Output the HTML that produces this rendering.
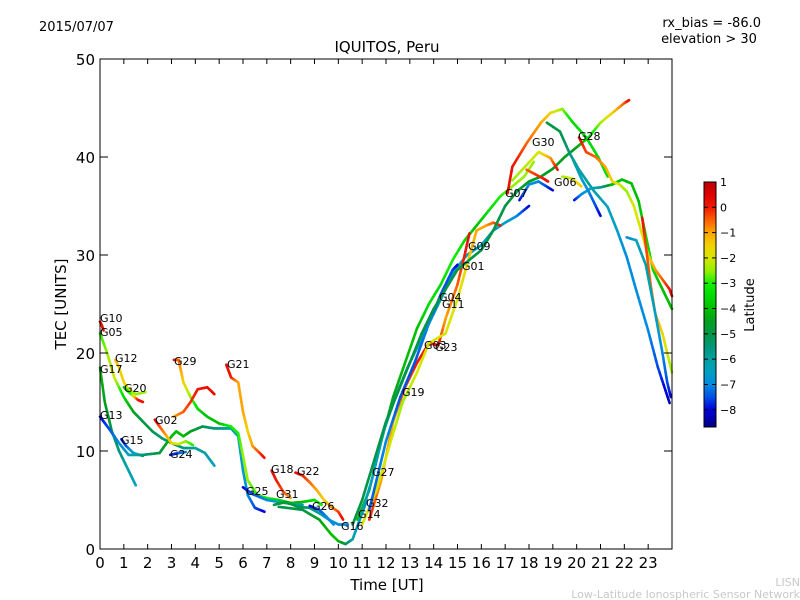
<!DOCTYPE html>
<html><head><meta charset="utf-8"><style>
body{margin:0;background:#fff;}
svg{display:block;font-family:"DejaVu Sans","Liberation Sans",sans-serif;}
</style></head><body>
<svg id="chart" width="800" height="600" viewBox="0 0 800 600">
<defs><linearGradient id="jet" x1="0" y1="0" x2="0" y2="1"></linearGradient></defs>
<text x="39" y="31" font-size="13">2015/07/07</text>
<text x="761" y="27" font-size="13" text-anchor="end">rx_bias = -86.0</text>
<text x="709" y="43" font-size="13" text-anchor="middle">elevation &gt; 30</text>
<text x="387" y="52" font-size="15" text-anchor="middle">IQUITOS, Peru</text>
<text x="387" y="590" font-size="15" text-anchor="middle">Time [UT]</text>
<text transform="translate(66,304) rotate(-90)" font-size="15" text-anchor="middle">TEC [UNITS]</text>
<g id="traces"></g>
<g id="labels"></g>
<rect x="100" y="59" width="572" height="490" fill="none" stroke="#000" stroke-width="1"/>
<g id="axes"></g>
<rect x="704" y="182" width="12" height="245" fill="url(#jet)" stroke="#000" stroke-width="1"/>
<g id="cbticks"></g>
<text transform="translate(754,305) rotate(-90)" font-size="13" text-anchor="middle">Latitude</text>
<text x="800" y="586" font-size="11" fill="#c8c8c8" text-anchor="end">LISN</text>
<text x="800" y="598" font-size="11" fill="#c8c8c8" text-anchor="end">Low-Latitude Ionospheric Sensor Network</text>
</svg>
<script>
const xTicks=[0,1,2,3,4,5,6,7,8,9,10,11,12,13,14,15,16,17,18,19,20,21,22,23];
const yTicks=[0,10,20,30,40,50];
const cbTicks=[1,0,-1,-2,-3,-4,-5,-6,-7,-8];
const traceHours=[
[0,0.08,0.15],
[0,0.3,0.6,1,1.4,1.8,2.2,2.6,3,3.5,4,4.4,4.8],
[0.65,0.8,1,1.2,1.5,1.9],
[1,1.3,1.6,1.8],
[0,0.2,0.5,0.8,1.1,1.5],
[0,0.4,0.8,1.2,1.8,2.5,3,3.2,3.5,3.8,4.3,4.8,5.5,5.8,6,6.2,6.5,6.9],
[0.9,1.1,1.4,1.8],
[3.1,3.3,3.5,3.8,4.1,4.5,5,5.5,5.8,6,6.2,6.6,7,7.5,8,8.5,9,9.3],
[2.3,2.5,2.8,3,3.3,3.6,3.9],
[3.1,3.5,3.8,4.1,4.5,4.8],
[2.95,3.3,3.6],
[5.3,5.5,5.8,6,6.2,6.4,6.7,6.9],
[6,6.4,7,7.5,8,8.5],
[7.2,7.4,7.7,8],
[8.2,8.5,8.8,9.1,9.4,9.7,10,10.2],
[7.3,7.8,8.3,8.8,9.3,9.6,10,10.4],
[8.8,9.2,9.5,9.8],
[7.5,8.5,9.2,9.7,10,10.3,10.6,10.9,11.2],
[10.8,11.3,11.8,12.3,12.8,13.3,13.8,14.3,14.8,15.3,15.8,16.3,16.8,17.3,17.8,18.2],
[10.9,11.4,11.9,12.4,12.9,13.4,13.9,14.4,14.9,15.4,16,16.5,17,17.5,18],
[11.3,11.8,12.3,12.8,13.3,13.8,14.2,14.5,15,15.3,15.5],
[11,11.6,12.2,12.7,13.3,13.8,14.5,15,15.4,15.8,16.2,16.5,16.8],
[11.3,12,12.6,13.2,13.8,14.3,14.8,15],
[10.6,11,11.5,12,12.5,13,13.5,14,14.5,15,15.5,16,16.5,17,17.5,18,18.5,19,19.5,20,20.5,21,21.5,22,22.2],
[17.1,17.3,17.9,18.5,18.9,19.4,19.85,20.4,20.9,21.3],
[17.3,18.4,18.9,19.2],
[17.9,18.6,18.8],
[17.6,18,18.4,19],
[19.4,19.8,20.2],
[18.75,19.3,19.7,20.1,20.7,21.3,21.7,22.1,22.5,23,23.4,23.9],
[19.9,20.2,20.6,21,21.5,21.9,22.3,22.6,22.9,23.2,23.5,23.8,24],
[19.85,20.2,20.5,20.8,21],
[20.1,20.4,20.8,21.2,21.5,21.8,22.1,22.4,22.7,23,23.3,23.6,23.9,24],
[22.75,22.9,23.1,23.3,23.6,23.8,24],
[22.1,22.5,22.9,23.3,23.6,23.8,23.95]
];
const traceTec=[
[23.2,22.8,22.3],
[22,20,17.5,15.5,14,13,12,11.3,10.8,10.3,10.3,9.8,8.5],
[19.3,18.5,17,16.3,15.8,16],
[16.5,15.8,15.2,15],
[18.5,15,12,10,8.5,6.5],
[13.5,12.2,10.8,9.6,9.6,9.8,11.5,12,11.5,12,12.5,12.3,12.3,11.5,8,5.5,4.2,3.8],
[11.2,10.5,9.8,9.5],
[19.3,19.3,17,15.5,14.3,13.5,12.8,12.5,11.8,9.5,7,5.5,5.2,5,4.7,4.8,5,4.5],
[13.2,12.5,11.5,10.8,10.7,11,10.6],
[13.5,14,15,16.3,16.5,15.8],
[9.6,9.8,9.9],
[18.8,17.5,17,14,12,10.5,9.8,9.3],
[6.3,5.6,5,4.8,4.6,4.5],
[8,7,5.8,5.2],
[7.8,7.5,6.8,6,5,4.3,3.8,3],
[4.5,4.8,4.3,4.2,3.5,3,2.5,2.5],
[4.4,4,3.3,2.5],
[4.3,4,3,1.5,0.8,0.5,1,3,5],
[3,6,11,15.5,19,22.5,25,27,29.5,31.5,33,34.5,36,37,38,39.5],
[3,7,12,15.5,18.5,21,23.5,26,28.5,30,31,32.5,33.3,34,35],
[3,7,13,16.5,19,21,20.8,23.5,27,30,32.2],
[2.5,6,11,15,18,21,22,25.5,29,32.5,33,33.3,33],
[4,11,15.5,19,23,26,28.5,29],
[2.5,5,9,13,16,19,22,24.5,26.5,28.5,29.5,30.5,32.5,35,36.5,37.5,38,38.8,40,41,42,43.5,44.5,45.5,45.8],
[36.3,39,41.4,43.5,44.5,44.9,43.5,42,40,38],
[37.6,40.5,39.9,38.7],
[38.7,37.8,37.5],
[35.6,37.2,37.5,36.6],
[38,37.8,37],
[43.5,42.6,40.4,38.7,36.6,34.9,32.5,29.8,26.4,22.3,18.6,14.9],
[35.6,36.2,36.8,36.9,37.2,37.7,37.3,35.5,32,28.5,27,25.5,24.5],
[39.7,37.8,36.5,35,34],
[42,40.5,40,39,37.5,37.2,36.5,35,32.5,30,28.5,27.5,26.5,25.8],
[33.8,31,27,24,22,20,18],
[31.8,31.5,29,24,20,17,15.5]
];
const traceLat=[
[0.3,0.2,0.1],
[-3,-2.5,-2,-3.5,-4.5,-5,-5,-5.5,-5.5,-5.5,-6,-6,-6.5],
[-1,-1.5,-1.5,-2,-2.5,-2.5],
[-4,-3,0,0.2],
[-4,-4.5,-5,-5.5,-6,-6.5],
[-8,-7.5,-7,-6.5,-5.5,-5,-4,-4,-4,-4.5,-5,-5.5,-6,-6.5,-6.5,-7,-7.5,-8],
[-8,-7.5,-6.5,-5.5],
[0.2,-0.5,-1.5,-2.5,-3.5,-4,-4,-3,-3,-2.5,-2.5,-3,-3,-3.5,-4,-4,-3.5,-3],
[0.2,-0.3,-1,-1.5,-2,-2.5,-3],
[-1,-0.5,-0.2,0,0.2,0.3],
[-8,-7.5,-7],
[0.3,0,-1,-1,-1.5,-1,-0.3,0.2],
[-8,-7.5,-7,-6.5,-6,-6],
[0.3,0,-0.3,-1],
[0.3,0,-0.5,-1,-1.5,-1,-0.3,0.2],
[-5,-4.5,-5,-5.5,-6,-6.5,-7,-7],
[-8,-7.5,-7,-7],
[-5,-5,-4.5,-4,-4,-5,-6,-7,-7],
[-4,-4,-4,-4.5,-4,-4,-3.5,-3.5,-3,-3.5,-4,-3.5,-3,-2.5,-2.5,-2.5],
[-6,-6.5,-6.5,-6,-6.5,-6.5,-6,-6.5,-6.5,-6.5,-6.5,-6.5,-6.5,-7,-8],
[0,-1,-1,-0.3,0,0,0.2,-1,-0.5,0,0.2],
[-2,-2,-2,-2.5,-2,-2,-2,-2,-1.5,-1,-1,-0.5,0],
[-7.5,-7,-7.5,-7.5,-7,-7.5,-7.5,-8],
[-5,-5,-5,-5,-5,-5,-5,-5,-5,-5,-5,-5,-5,-5,-5,-4.5,-4.5,-4.5,-4.5,-4.5,-3.5,-2.5,-1.5,-0.5,0.2],
[0.2,0.2,-0.5,-1,-1.5,-2.5,-3.5,-3.5,-3.5,-3.5],
[-2.5,-2,-1,0.2],
[-0.5,0,0.2],
[-8,-7,-7,-8],
[-2.5,-2,-1.5],
[-5,-5,-5.5,-6,-6,-6.5,-6.5,-7,-7,-7,-7.5,-8.3],
[-8,-7,-6.5,-6,-4,-4,-4,-4,-3.5,-3.5,-4,-4,-4],
[-6,-6.5,-7,-7.5,-8],
[0.2,-0.3,-0.5,-1,-1.5,-2,-2.5,-2,-2,-1.5,-1,-0.5,0,0.2],
[0.2,-0.3,-0.5,-1,-1.5,-2,-2.5],
[-7,-6.5,-6,-6.5,-7,-7.5,-8]
];
const satNames=["G10","G05","G12","G17","G20","G13","G15","G02","G29","G24","G21","G25","G18","G22","G31","G26","G16","G14","G32","G27","G19","G03","G23","G04","G11","G01","G09","G07","G06","G30","G28"];
const labelPos=[[100,322],[100,336],[115,362],[100,373],[124,392],[100,419],[121,444],[155,424],[174,365],[170,458],[227,368],[246,495],[271,473],[297,475],[276,498],[312,510],[341,530],[358,518],[366,507],[372,476],[402,396],[424,349],[435,351],[439,301],[442,308],[462,270],[468,250],[505,197],[554,186],[532,146],[578,140]];

const NS="http://www.w3.org/2000/svg";
const X0=100,X1=672,Y0=549,Y1=59;
function xs(h){return X0+h*(X1-X0)/24;}
function ys(t){return Y0-t*(Y0-Y1)/50;}
const LMAX=1.0,LMIN=-8.68;
const CSTOPS=[[1,190,0,0],[0.5,225,0,0],[0,240,25,0],[-0.5,255,95,0],[-1,255,165,0],[-1.5,240,210,0],[-2,215,230,0],[-2.5,150,240,0],[-3,20,240,0],[-3.5,0,220,0],[-4,0,190,0],[-4.5,0,160,30],[-5,0,150,70],[-5.5,0,150,120],[-6,0,160,160],[-6.5,0,160,195],[-7,0,140,225],[-7.5,0,80,230],[-8,0,0,220],[-8.68,0,0,130]];
function cmap(v){
 if(v>=CSTOPS[0][0])return `rgb(${CSTOPS[0][1]},${CSTOPS[0][2]},${CSTOPS[0][3]})`;
 for(let i=0;i<CSTOPS.length-1;i++){const a=CSTOPS[i],b=CSTOPS[i+1];
  if(v<=a[0]&&v>=b[0]){const f=(a[0]-v)/(a[0]-b[0]);
   return `rgb(${Math.round(a[1]+(b[1]-a[1])*f)},${Math.round(a[2]+(b[2]-a[2])*f)},${Math.round(a[3]+(b[3]-a[3])*f)})`;}}
 const l=CSTOPS[CSTOPS.length-1];return `rgb(${l[1]},${l[2]},${l[3]})`;}
function mk(tag,attrs,parent){const e=document.createElementNS(NS,tag);for(const k in attrs)e.setAttribute(k,attrs[k]);parent.appendChild(e);return e;}

const grad=document.getElementById('jet');
CSTOPS.forEach(s=>{mk('stop',{offset:(LMAX-s[0])/(LMAX-LMIN),'stop-color':cmap(s[0])},grad);});

const tg=document.getElementById('traces');
traceHours.forEach((hs,i)=>{
 const g=mk('g',{},tg);
 
 
 for(let j=0;j<hs.length-1;j++){
  const n=6;
  for(let k=0;k<n;k++){
   const a=k/n,b=(k+1)/n;
   const h1=hs[j]+(hs[j+1]-hs[j])*a,h2=hs[j]+(hs[j+1]-hs[j])*b;
   const t1=traceTec[i][j]+(traceTec[i][j+1]-traceTec[i][j])*a,t2=traceTec[i][j]+(traceTec[i][j+1]-traceTec[i][j])*b;
   const l=traceLat[i][j]+(traceLat[i][j+1]-traceLat[i][j])*(a+b)/2;
   const s=mk('line',{x1:xs(h1),y1:ys(t1),x2:xs(h2),y2:ys(t2),stroke:cmap(l),'stroke-width':2.6,'stroke-linecap':'round'},g);
   
   
  }
 }
});
const lg=document.getElementById('labels');
satNames.forEach((n,i)=>{
 const t=mk('text',{x:labelPos[i][0],y:labelPos[i][1],'font-size':11},lg);
 t.textContent=n;
 
 
});
const ax=document.getElementById('axes');
xTicks.forEach(v=>{
 const x=xs(v);
 mk('line',{x1:x,y1:Y0,x2:x,y2:Y0-5,stroke:'#000'},ax);
 mk('line',{x1:x,y1:Y1,x2:x,y2:Y1+5,stroke:'#000'},ax);
 const t=mk('text',{x:x,y:568,'font-size':15,'text-anchor':'middle'},ax);
 t.textContent=v;
 
 
});
yTicks.forEach(v=>{
 const y=ys(v);
 mk('line',{x1:X0,y1:y,x2:X0+8,y2:y,stroke:'#000'},ax);
 mk('line',{x1:X1,y1:y,x2:X1-8,y2:y,stroke:'#000'},ax);
 const t=mk('text',{x:95,y:y+6,'font-size':15,'text-anchor':'end'},ax);
 t.textContent=v;
 
 
});
const cb=document.getElementById('cbticks');
cbTicks.forEach(v=>{
 const y=182+(LMAX-v)/(LMAX-LMIN)*245;
 mk('line',{x1:704,y1:y,x2:708,y2:y,stroke:'#000'},cb);
 mk('line',{x1:716,y1:y,x2:712,y2:y,stroke:'#000'},cb);
 const t=mk('text',{x:720,y:y+4,'font-size':11},cb);
 t.textContent=v<0?'\u2212'+(-v):String(v);
 
 
});
</script>
</body></html>
